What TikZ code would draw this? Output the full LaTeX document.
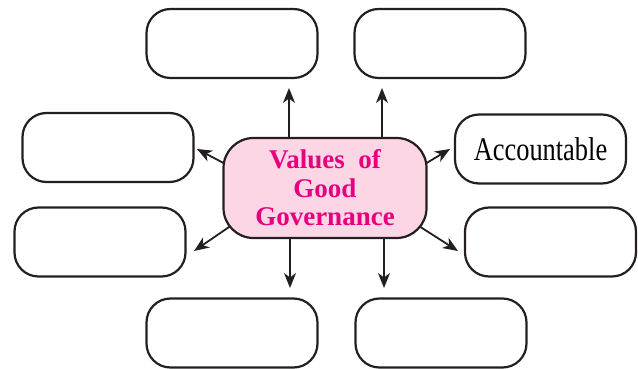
\documentclass[tikz,border=0pt]{standalone}
\usepackage{fontspec}
\setmainfont{Liberation Serif}
\usepackage{graphicx}
\usetikzlibrary{arrows.meta}
\usetikzlibrary{backgrounds}

\definecolor{govpink}{RGB}{253,214,229}
\definecolor{govtext}{RGB}{230,0,126}
\definecolor{inkline}{RGB}{35,31,32}

\tikzset{
valbox/.style={draw=inkline, line width=2.2pt, rounded corners=24pt, minimum width=171pt, minimum height=69pt, inner sep=0pt},
govbox/.style={draw=inkline, fill=govpink, line width=2.2pt, rounded corners=30pt, minimum width=203pt, minimum height=100pt, align=center, text=govtext},
arr/.style={draw=inkline, line width=1.8pt, -{Stealth[length=15pt,width=12pt,inset=4.5pt]}}
}

\begin{document}
\begin{tikzpicture}[x=1pt,y=-1pt]

\useasboundingbox (0,0) rectangle (638,369);

\node (gov) at (325,188) [govbox, font=\fontsize{27}{28.5}\selectfont\bfseries] {Values~ of\\Good\\Governance};

\foreach \n/\x/\y in {top1/232/43.5, top2/440/43.5, left1/108/147.5, left2/100/242, right2/550.5/242, bot1/232/333, bot2/441/333}
\node (\n) at (\x,\y) [valbox] {};

\node (right1) at (540.5,149) [valbox, font=\fontsize{33}{36}\selectfont] {\scalebox{0.8}[1]{Accountable}};


\coordinate (tipU1) at (289,88);
\coordinate (tipU2) at (382,88);
\coordinate (tipD1) at (290,288);
\coordinate (tipD2) at (384,288);
\coordinate (tipUL) at (197,149);
\coordinate (tipLL) at (194,251);
\coordinate (tipUR) at (450,149);
\coordinate (tipLR) at (458,251);

\begin{pgfonlayer}{background}
\foreach \t in {tipU1,tipU2}
\draw[arr] (gov.north -| \t) -- (\t);

\foreach \t in {tipD1,tipD2}
\draw[arr] (gov.south -| \t) -- (\t);

\foreach \a/\t in {166/tipUL, 203/tipLL, 14/tipUR, 337/tipLR}
\draw[arr, shorten <=-12pt] (gov.\a) -- (\t);
\end{pgfonlayer}

\end{tikzpicture}
\end{document}
